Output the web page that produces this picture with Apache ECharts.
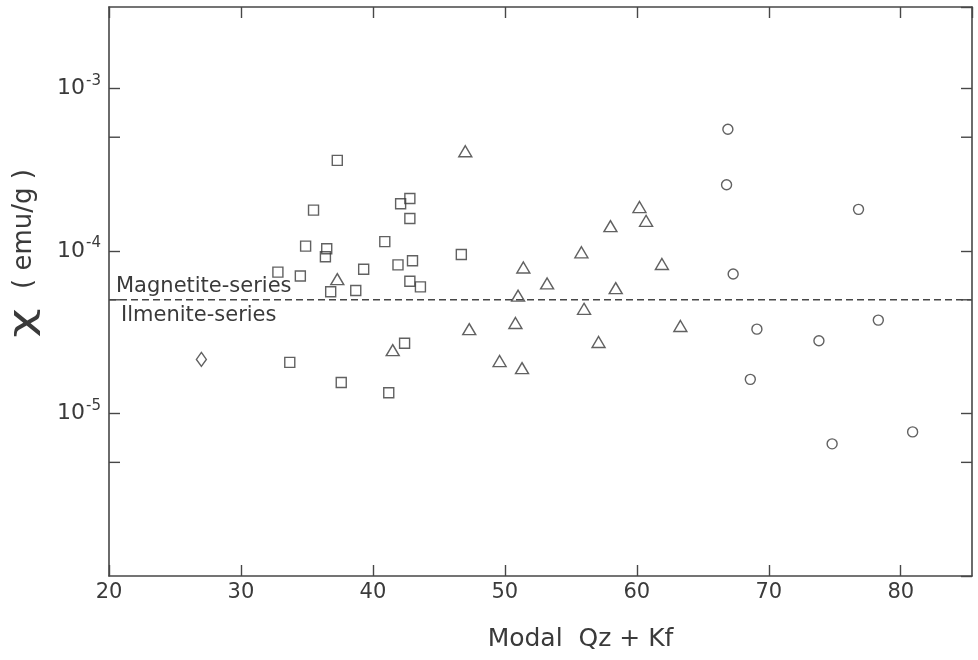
<!DOCTYPE html>
<html>
<head>
<meta charset="utf-8">
<script src="https://cdn.jsdelivr.net/npm/echarts@6/dist/echarts.min.js"></script>
<style>
html,body{margin:0;padding:0;background:#ffffff;}
#chart{width:978px;height:660px;}
</style>
</head>
<body>
<div id="chart"></div>
<script>
// ---- data (Modal Qz+Kf vs magnetic susceptibility, emu/g) ----
const squareQz  = [37.3, 35.5, 42.1, 42.8, 42.8, 40.9, 34.9, 36.5, 36.4, 46.7, 41.9, 43.0, 39.3, 32.8, 34.5, 42.8, 43.6, 36.8, 38.7, 42.4, 33.7, 37.6, 41.2];
const squareChi = [3.6e-4, 1.78e-4, 1.95e-4, 2.1e-4, 1.58e-4, 1.14e-4, 1.07e-4, 1.03e-4, 9.2e-5, 9.5e-5, 8.2e-5, 8.7e-5, 7.7e-5, 7.4e-5, 7.0e-5, 6.5e-5, 6.0e-5, 5.6e-5, 5.7e-5, 2.7e-5, 2.06e-5, 1.55e-5, 1.34e-5];

const triangleQz  = [47.0, 37.3, 41.5, 47.3, 51.4, 53.2, 51.0, 50.8, 49.6, 51.3, 55.8, 58.0, 60.2, 60.7, 61.9, 58.4, 56.0, 57.1, 63.3];
const triangleChi = [4.1e-4, 6.7e-5, 2.45e-5, 3.3e-5, 7.9e-5, 6.3e-5, 5.3e-5, 3.6e-5, 2.1e-5, 1.9e-5, 9.8e-5, 1.42e-4, 1.86e-4, 1.53e-4, 8.3e-5, 5.9e-5, 4.4e-5, 2.75e-5, 3.45e-5];

const circleQz  = [66.9, 66.8, 76.8, 67.3, 69.1, 78.3, 73.8, 68.6, 74.8, 80.9];
const circleChi = [5.6e-4, 2.55e-4, 1.8e-4, 7.2e-5, 3.3e-5, 3.75e-5, 2.8e-5, 1.62e-5, 6.5e-6, 7.7e-6];

const diamondQz  = [27.0];
const diamondChi = [2.15e-5];

const boundaryChi  = 5e-5;               // magnetite / ilmenite series boundary
const minorTickChi = [5e-4, 5e-5, 5e-6]; // intermediate ticks on the log axis
const seriesLabels = ['Magnetite-series', 'Ilmenite-series'];

const X_MIN = 20, X_MAX = 85.4, X_STEP = 10;
const Y_MIN = 1e-6, Y_MAX = 3.1623e-3;

// ---- styling ----
const INK = '#3a3a3a';
const LINE = '#474747';
const FONT = 'DejaVu Sans';

function pairs(xs, ys) { return xs.map((x, i) => [x, ys[i]]); }

const hollow = { color: 'rgba(0,0,0,0)', borderColor: INK, borderWidth: 1.4 };

const axisLineStyle = { lineStyle: { color: LINE, width: 1.6 } };
const tickStyle = { inside: true, length: 11, lineStyle: { color: LINE, width: 1.4 } };

const chart = echarts.init(document.getElementById('chart'), null, { renderer: 'canvas' });

const option = {
  animation: false,
  backgroundColor: '#ffffff',
  grid: { left: 109, right: 6, top: 7, bottom: 84 },
  xAxis: [
    {
      type: 'value', position: 'bottom', min: X_MIN, max: X_MAX, interval: X_STEP,
      axisLine: axisLineStyle, axisTick: tickStyle, splitLine: { show: false },
      axisLabel: { color: INK, fontFamily: FONT, fontSize: 21, margin: 6, showMaxLabel: false },
      name: 'Modal  Qz + Kf', nameLocation: 'middle', nameGap: 51,
      nameTextStyle: { color: INK, fontFamily: FONT, fontSize: 25, padding: [0, 0, 0, 80] }
    },
    {
      type: 'value', position: 'top', min: X_MIN, max: X_MAX, interval: X_STEP,
      axisLine: axisLineStyle, axisTick: tickStyle, splitLine: { show: false },
      axisLabel: { show: false }
    }
  ],
  yAxis: [
    {
      type: 'log', logBase: 10, position: 'left', min: Y_MIN, max: Y_MAX,
      axisLine: axisLineStyle, axisTick: tickStyle, splitLine: { show: false },
      minorTick: { show: false },
      axisLabel: {
        margin: 8, showMinLabel: false, showMaxLabel: false,
        formatter: function (v) {
          const e = Math.round(Math.log10(v));
          return '{b|10}{s|' + (e < 0 ? '-' + (-e) : e) + '}';
        },
        rich: {
          b: { color: INK, fontFamily: FONT, fontSize: 22, lineHeight: 22 },
          s: { color: INK, fontFamily: FONT, fontSize: 15, lineHeight: 15, padding: [0, 0, 15, 1] }
        }
      }
    },
    {
      type: 'log', logBase: 10, position: 'right', min: Y_MIN, max: Y_MAX,
      axisLine: axisLineStyle, axisTick: tickStyle, splitLine: { show: false },
      minorTick: { show: false }, axisLabel: { show: false }
    }
  ],
  series: [
    {
      type: 'line', name: 'boundary', silent: true, symbol: 'none',
      data: [[X_MIN, boundaryChi], [X_MAX, boundaryChi]],
      lineStyle: { color: LINE, width: 1.4, type: [7, 4] },
      z: 1
    },
    {
      type: 'scatter', name: 'squares', symbol: 'rect', symbolSize: 10,
      data: pairs(squareQz, squareChi), itemStyle: hollow
    },
    {
      type: 'scatter', name: 'triangles', symbol: 'triangle', symbolSize: [13, 11],
      data: pairs(triangleQz, triangleChi), itemStyle: hollow
    },
    {
      type: 'scatter', name: 'circles', symbol: 'circle', symbolSize: 10,
      data: pairs(circleQz, circleChi), itemStyle: hollow
    },
    {
      type: 'scatter', name: 'diamond', symbol: 'diamond', symbolSize: [10, 14],
      data: pairs(diamondQz, diamondChi), itemStyle: hollow
    },
    {
      type: 'custom', name: 'minorTicks', silent: true,
      data: minorTickChi.map(v => [X_MIN, v]),
      renderItem: function (params, api) {
        const v = api.value(1);
        const l = api.coord([X_MIN, v]);
        const r = api.coord([X_MAX, v]);
        const st = { stroke: LINE, lineWidth: 1.4 };
        return {
          type: 'group',
          children: [
            { type: 'line', shape: { x1: l[0], y1: l[1], x2: l[0] + 11, y2: l[1] }, style: st },
            { type: 'line', shape: { x1: r[0] - 11, y1: r[1], x2: r[0], y2: r[1] }, style: st }
          ]
        };
      }
    }
  ],
  graphic: [
    {
      type: 'text', x: 116, y: 287,
      style: { text: seriesLabels[0], fill: INK, font: '21px "DejaVu Sans"', verticalAlign: 'middle', align: 'left' }
    },
    {
      type: 'text', x: 121, y: 316,
      style: { text: seriesLabels[1], fill: INK, font: '21px "DejaVu Sans"', verticalAlign: 'middle', align: 'left' }
    },
    {
      type: 'text', x: 24, y: 229, rotation: Math.PI / 2,
      style: { text: '( emu/g )', fill: INK, font: '26px "DejaVu Sans"', align: 'center', verticalAlign: 'middle' }
    },
    {
      type: 'text', x: 24, y: 323, rotation: Math.PI / 2, scaleX: 1.5,
      style: { text: 'χ', fill: INK, font: '34px "DejaVu Sans"', align: 'center', verticalAlign: 'middle' }
    }
  ]
};

chart.setOption(option);
</script>
</body>
</html>
